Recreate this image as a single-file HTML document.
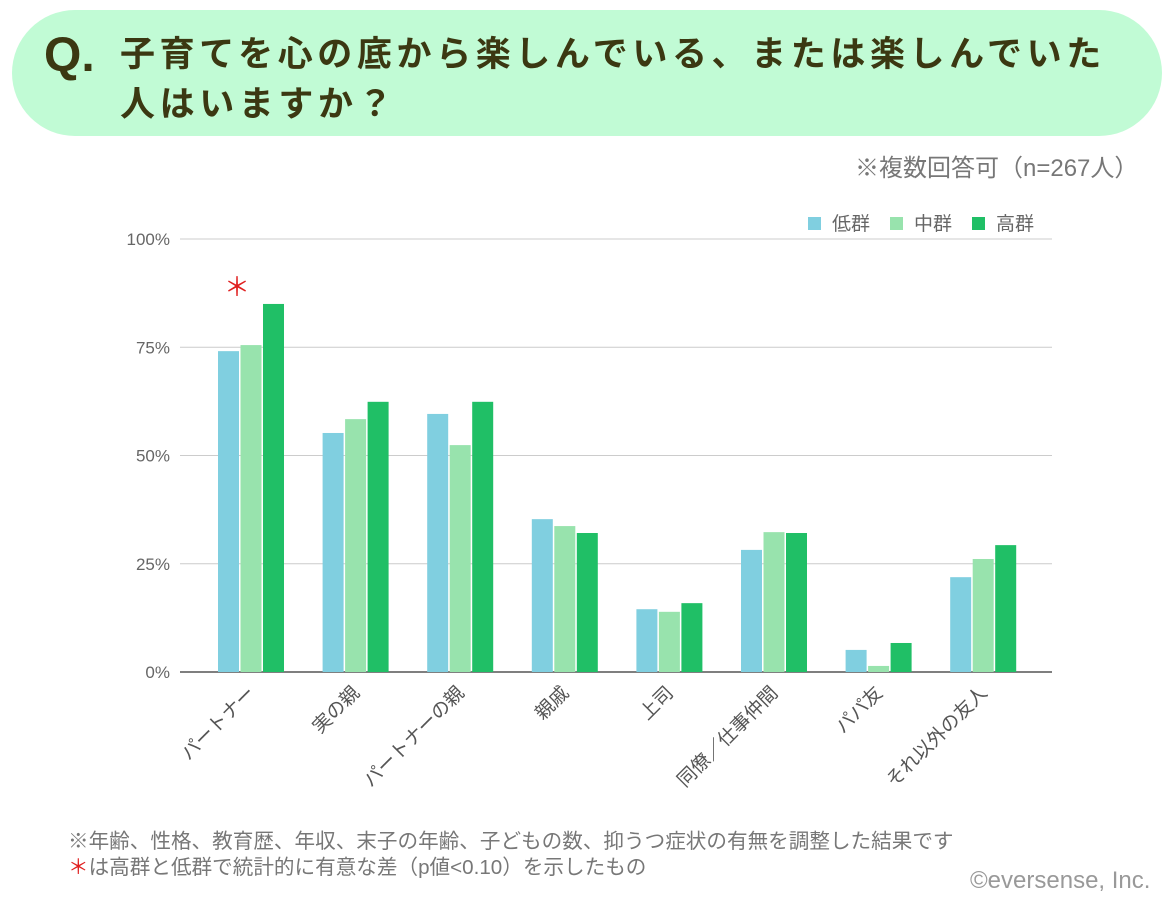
<!DOCTYPE html>
<html><head><meta charset="utf-8"><style>
body{margin:0;width:1174px;height:904px;background:#fff;font-family:"Liberation Sans","Noto Sans CJK JP",sans-serif;overflow:hidden;position:relative}
.hdr{position:absolute;left:12px;top:10px;width:1150px;height:126px;background:#c1fbd5;border-radius:63px}
.q{position:absolute;left:44px;top:28px;font-size:48px;font-weight:bold;color:#3b3812}
.t{position:absolute;left:120px;top:30px;font-size:35px;font-weight:bold;color:#3b3812;line-height:50px;letter-spacing:4.6px}
.abs{position:absolute;color:#666;white-space:nowrap}
</style></head><body>
<div class="hdr"></div>
<div class="q">Q.</div>
<div class="t">子育てを心の底から楽しんでいる、または楽しんでいた<br>人はいますか？</div>
<div class="abs" style="left:855px;top:148px;font-size:24px;color:#777">※複数回答可（n=267人）</div>
<div class="abs" style="left:68px;top:824px;font-size:20.6px;color:#777">※年齢、性格、教育歴、年収、末子の年齢、子どもの数、抑うつ症状の有無を調整した結果です</div>
<div class="abs" style="left:68px;top:850px;font-size:20.6px;color:#777"><span style="color:#e02020">＊</span>は高群と低群で統計的に有意な差（p値&lt;0.10）を示したもの</div>
<div class="abs" style="left:970px;top:867px;font-size:24px;color:#999">©eversense, Inc.</div>
<svg id="c" width="1174" height="904" style="position:absolute;left:0;top:0"></svg>
<script>
const categories=["パートナー","実の親","パートナーの親","親戚","上司","同僚／仕事仲間","パパ友","それ以外の友人"];
const lowValues=[74.1,55.2,59.6,35.3,14.5,28.2,5.1,21.9];
const midValues=[75.5,58.4,52.4,33.7,13.9,32.3,1.4,26.1];
const highValues=[85,62.4,62.4,32.1,15.9,32.1,6.7,29.3];
const tickValues=[0,25,50,75,100];
const tickLabels=["0%","25%","50%","75%","100%"];
const seriesNames=["低群","中群","高群"];
const significant=[true,false,false,false,false,false,false,false];
const colors=["#80cfe0","#98e3ad","#20bf66"];
const svg=document.getElementById('c');const NS="http://www.w3.org/2000/svg";
const y=v=>672-v*4.33;
const gx=i=>218+i*104.6;
function mk(t,a,txt){const e=document.createElementNS(NS,t);for(const k in a)e.setAttribute(k,a[k]);if(txt!==undefined)e.textContent=txt;svg.appendChild(e);return e;}
tickValues.forEach((v,i)=>{
 const l=mk('line',{x1:180,x2:1052,y1:y(v),y2:y(v),stroke:v==0?'#555':'#ccc','stroke-width':v==0?1.5:1});
 
 
 const t=mk('text',{x:170,y:y(v)+6,'text-anchor':'end','font-size':17,fill:'#666'},tickLabels[i]);
 
 
});
const series=[lowValues,midValues,highValues];
categories.forEach((c,i)=>{
 series.forEach((s,j)=>{
  const r=mk('rect',{x:gx(i)+j*22.5,y:y(s[i]),width:21,height:672-y(s[i]),fill:colors[j]});
  
  
 });
 const cx=gx(i)+33;
 const t=mk('text',{x:0,y:0,'text-anchor':'end','font-size':19,fill:'#555',transform:`translate(${cx+5},${694}) rotate(-45)`},c);
 
 
 if(significant[i]){
  const m=mk('text',{x:cx-14,y:y(Math.max(lowValues[i],highValues[i]))-8,'text-anchor':'middle','font-size':26,fill:'#e02020'},'＊');
  
  
 }
});
const lx=[808,890,972];
seriesNames.forEach((n,j)=>{
 const r=mk('rect',{x:lx[j],y:217,width:13,height:13,fill:colors[j]});
 
 
 const t=mk('text',{x:lx[j]+24,y:230,'font-size':19,fill:'#666'},n);
 
 
});
</script>
</body></html>
